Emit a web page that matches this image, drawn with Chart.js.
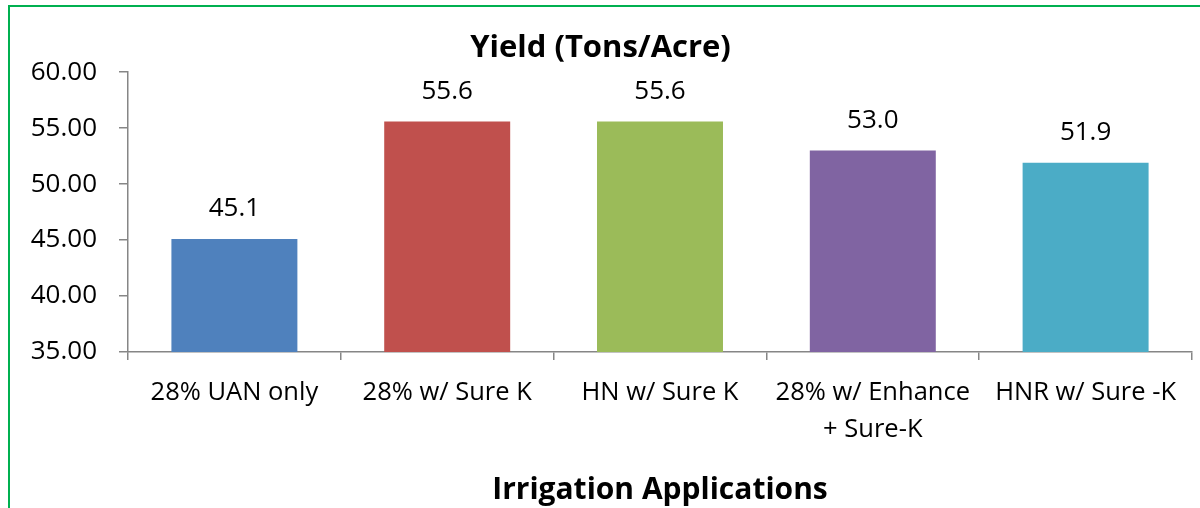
<!DOCTYPE html>
<html>
<head>
<meta charset="utf-8">
<script src="https://cdn.jsdelivr.net/npm/chart.js@4/dist/chart.umd.min.js"></script>
<style>
  html, body { margin: 0; padding: 0; background: #fff; overflow: hidden; }
  #wrap { position: absolute; left: 9px; top: 0; width: 1191px; height: 508px; }
  #frame {
    position: absolute; left: 8px; top: 5px; width: 1300px; height: 600px;
    border-left: 2.5px solid #00B050; border-top: 2px solid #00B050;
    pointer-events: none;
  }
</style>
</head>
<body>
<div id="wrap"><canvas id="yield-chart"></canvas></div>
<div id="frame"></div>
<script>
  // categorias e valores
  const CATEGORIES = [
    "28% UAN only",
    "28% w/ Sure K",
    "HN w/ Sure K",
    ["28% w/ Enhance", "+ Sure-K"],
    "HNR w/ Sure -K",
  ];
  const YIELD = [45.1, 55.6, 55.6, 53.0, 51.9];
  const BAR_COLORS = ["#4F81BD", "#C0504D", "#9BBB59", "#8064A2", "#4BACC6"];
  const Y_MIN = 35, Y_MAX = 60, Y_STEP = 5;

  const FONT = "'Open Sans', sans-serif";
  const AXIS_GRAY = "#868686";

  // rótulos de valor acima das barras
  const valueLabels = {
    id: "valueLabels",
    afterDatasetsDraw(chart) {
      const ctx = chart.ctx;
      const meta = chart.getDatasetMeta(0);
      ctx.save();
      ctx.font = "26px " + FONT;
      ctx.fillStyle = "#000";
      ctx.textAlign = "center";
      ctx.textBaseline = "middle";
      meta.data.forEach(function (bar, i) {
        ctx.fillText(YIELD[i].toFixed(1), bar.x, bar.y - 30);
      });
      ctx.restore();
    },
  };

  new Chart(document.getElementById("yield-chart"), {
    type: "bar",
    data: {
      labels: CATEGORIES,
      datasets: [{
        data: YIELD,
        backgroundColor: BAR_COLORS,
        borderWidth: 0,
        barPercentage: 0.592,
        categoryPercentage: 1,
      }],
    },
    options: {
      responsive: true,
      maintainAspectRatio: false,
      animation: false,
      layout: { padding: { left: 0, right: 8, top: 0, bottom: 0 } },
      plugins: {
        legend: { display: false },
        tooltip: { enabled: false },
        title: {
          display: true,
          text: "Yield (Tons/Acre)",
          color: "#000",
          font: { family: FONT, size: 31, weight: "bold", lineHeight: 1.2 },
          padding: { top: 30, bottom: 5 },
        },
      },
      scales: {
        y: {
          min: Y_MIN,
          max: Y_MAX,
          afterFit: function (s) { s.width = 119; },
          ticks: {
            stepSize: Y_STEP,
            color: "#000",
            padding: 22,
            font: { family: FONT, size: 26 },
            callback: function (v) { return Number(v).toFixed(2); },
          },
          grid: { drawOnChartArea: false, tickLength: 9, color: AXIS_GRAY, lineWidth: 1.5 },
          border: { display: true, color: AXIS_GRAY, width: 1.5 },
        },
        x: {
          afterFit: function (s) { s.height = 156; },
          ticks: {
            color: "#000",
            padding: 14,
            maxRotation: 0,
            autoSkip: false,
            font: { family: FONT, size: 25.5, lineHeight: 1.45 },
          },
          grid: { drawOnChartArea: false, tickLength: 8, color: AXIS_GRAY, lineWidth: 1.5 },
          border: { display: true, color: AXIS_GRAY, width: 1.5 },
          title: {
            display: true,
            text: "Irrigation Applications",
            color: "#000",
            font: { family: FONT, size: 30, weight: "bold", lineHeight: 1.2 },
            padding: { top: 0, bottom: 0 },
          },
        },
      },
    },
    plugins: [valueLabels],
  });
</script>
</body>
</html>
